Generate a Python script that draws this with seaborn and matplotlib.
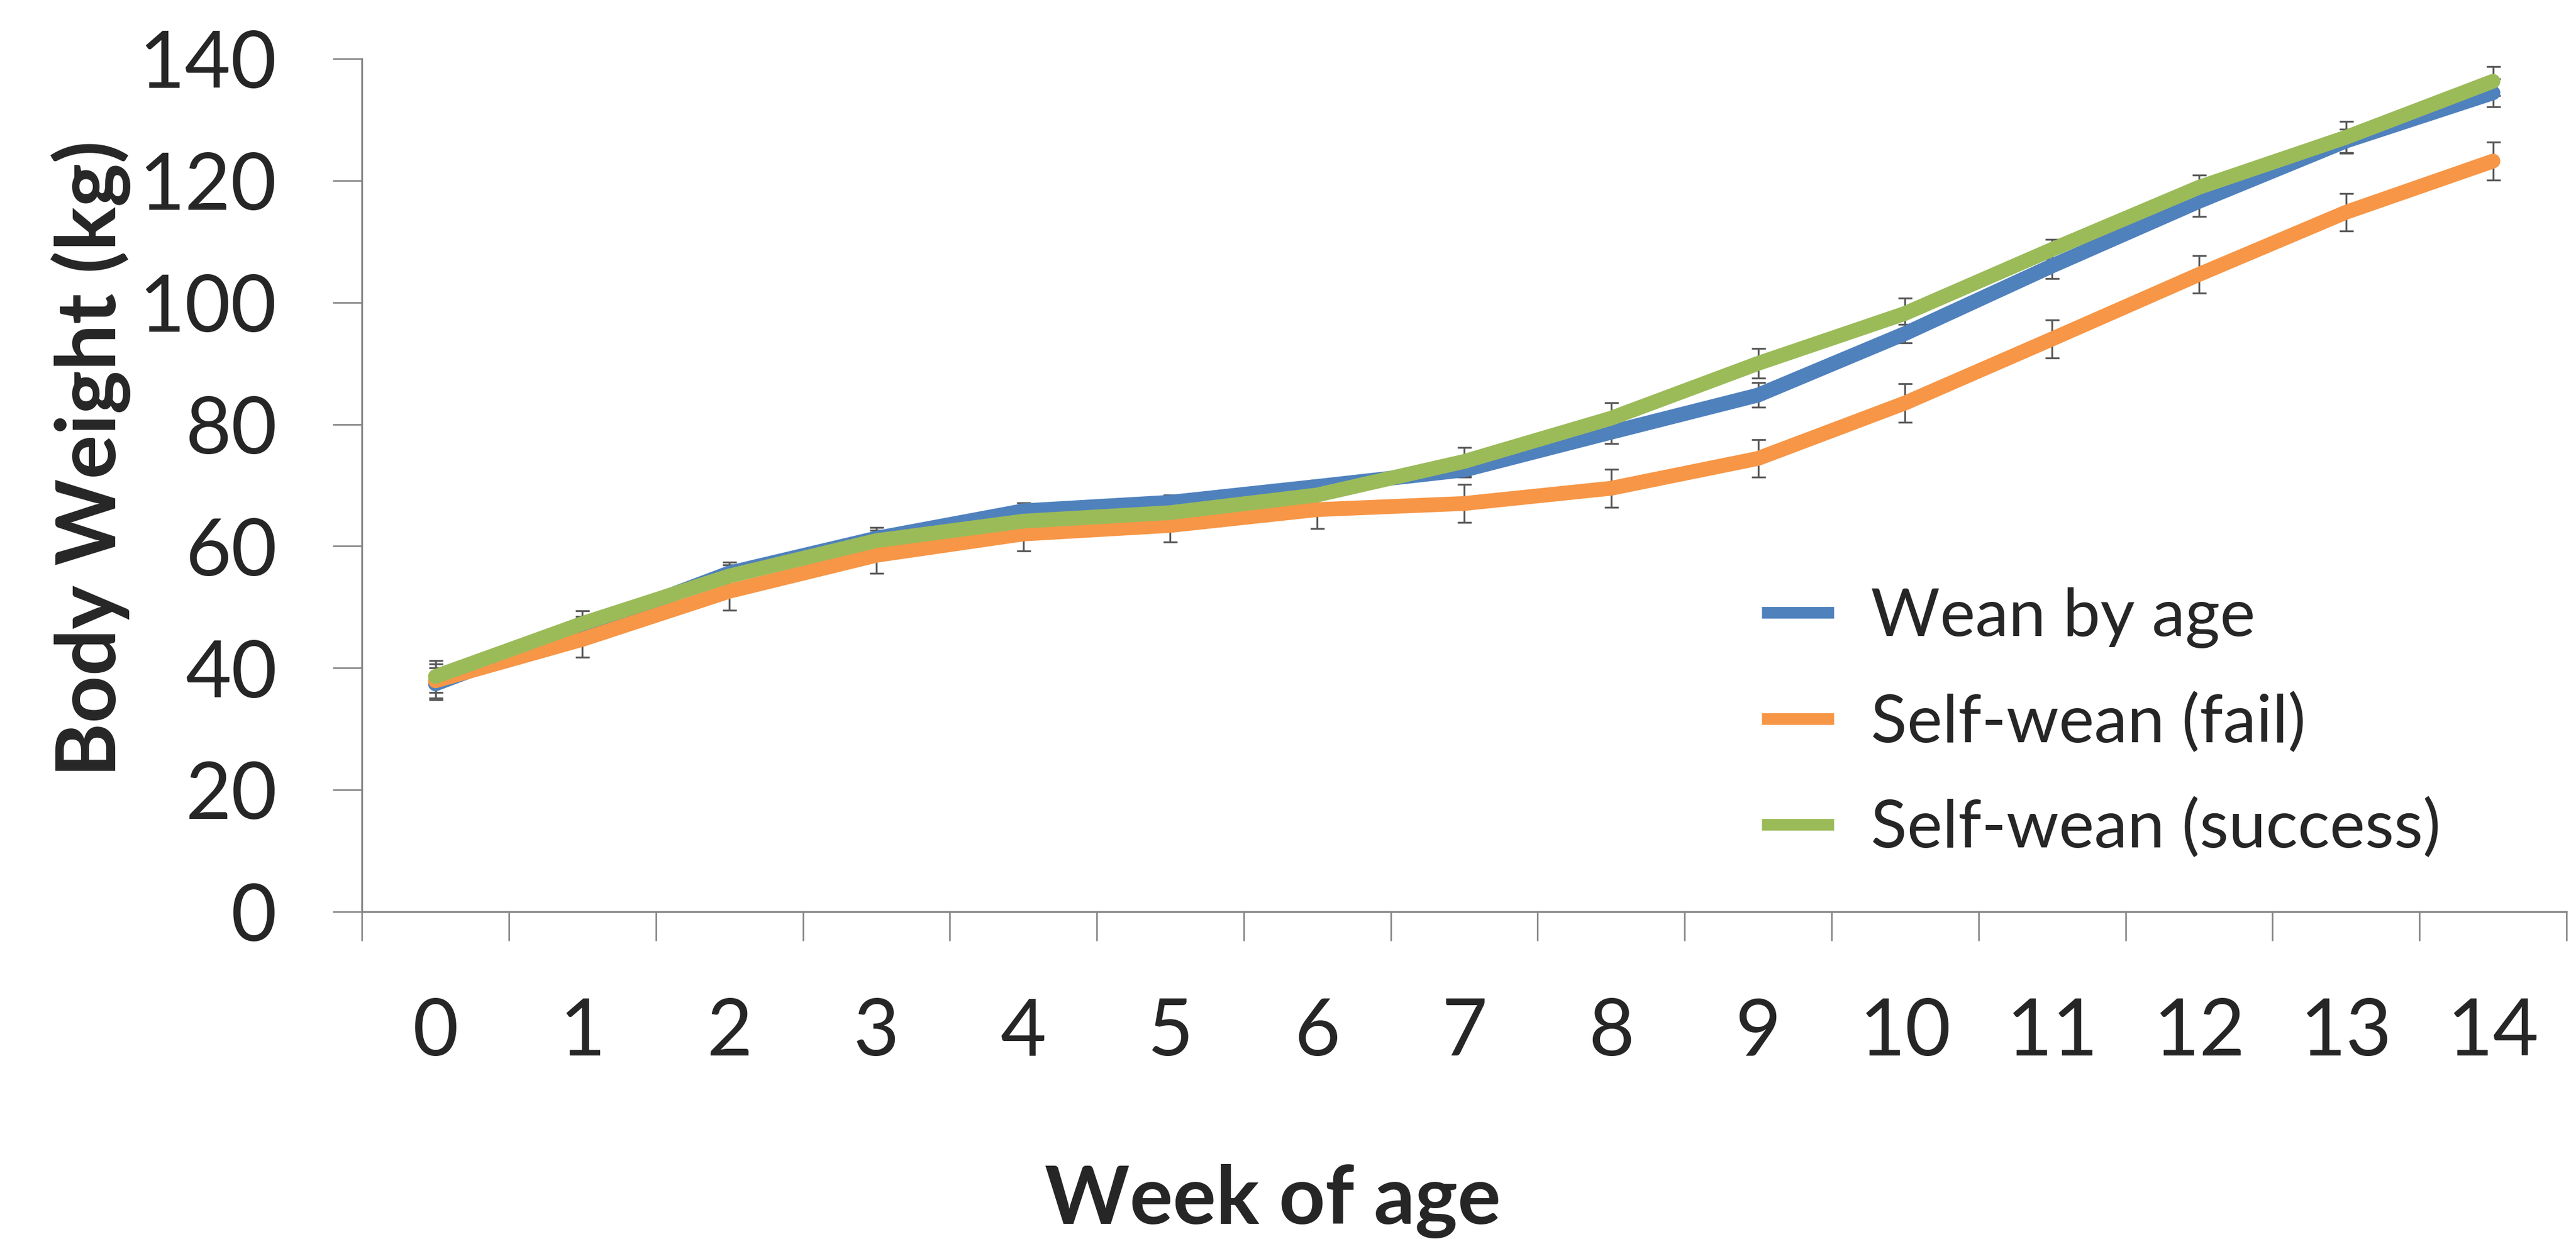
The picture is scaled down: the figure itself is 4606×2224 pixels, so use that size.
import matplotlib
matplotlib.use("Agg")
import matplotlib.pyplot as plt
import seaborn as sns
import numpy as np
import pandas as pd

# Body weight by week of age (kg), mean and error
weeks = list(range(15))
wean_by_age = [37.4, 46.5, 55.6, 61.3, 65.8, 67.2, 69.8, 72.5, 78.7, 84.8, 94.9, 106.0, 116.6, 126.5, 134.4]
self_wean_fail = [37.9, 44.7, 52.6, 58.5, 62.0, 63.4, 66.0, 67.0, 69.5, 74.4, 83.5, 94.0, 104.6, 114.8, 123.2]
self_wean_success = [38.6, 47.3, 55.1, 60.9, 64.1, 65.5, 68.4, 73.9, 81.0, 90.0, 98.2, 108.7, 118.9, 127.1, 136.3]
err_wean = [2.6, 2.0, 1.8, 1.8, 1.3, 1.2, 1.0, 1.2, 1.9, 2.0, 1.5, 2.1, 2.5, 1.9, 2.3]
err_fail = [2.8, 2.9, 3.1, 3.0, 2.8, 2.7, 3.1, 3.1, 3.1, 3.1, 3.2, 3.1, 3.1, 3.1, 3.1]
err_success = [2.6, 2.1, 1.8, 1.7, 1.5, 1.6, 1.8, 2.3, 2.5, 2.4, 2.5, 1.6, 2.0, 2.6, 2.4]

labels = ["Wean by age", "Self-wean (fail)", "Self-wean (success)"]
colors = ["#4F81BD", "#F79646", "#9BBB59"]

df = pd.DataFrame({
    "week": weeks * 3,
    "weight": wean_by_age + self_wean_fail + self_wean_success,
    "err": err_wean + err_fail + err_success,
    "group": [labels[0]] * 15 + [labels[1]] * 15 + [labels[2]] * 15,
})

sns.set_style("white")
plt.rcParams["font.family"] = ["Lato", "DejaVu Sans"]

fig = plt.figure(figsize=(23.03, 11.12), dpi=200)
ax = fig.add_axes([0.1405, 0.2671, 0.8558, 0.6857])

# error bars sit under the lines
for lab in labels:
    d = df[df["group"] == lab]
    ax.errorbar(d["week"], d["weight"], yerr=d["err"], fmt="none",
                ecolor="#595959", elinewidth=1.2, capsize=4.5, capthick=1.2, zorder=1)

sns.lineplot(data=df, x="week", y="weight", hue="group", hue_order=labels,
             palette=colors, linewidth=9.5, ax=ax, legend=False,
             solid_capstyle="round", zorder=2)

ax.set_xlim(-0.5, 14.5)
ax.set_ylim(0, 140)
ax.set_yticks(range(0, 141, 20))
ax.set_xticks(np.arange(-0.5, 15, 1))
ax.set_xticklabels([])
ax.set_xticks(weeks, minor=True)
ax.set_xticklabels([str(w) for w in weeks], minor=True)

for s in ["top", "right"]:
    ax.spines[s].set_visible(False)
for s in ["left", "bottom"]:
    ax.spines[s].set_color("#868686")
    ax.spines[s].set_linewidth(1.2)

ax.tick_params(axis="y", which="major", direction="out", length=18.7, width=1.0,
               color="#868686", pad=36, labelsize=51, left=True)
ax.tick_params(axis="x", which="major", direction="out", length=18.7, width=1.0,
               color="#868686", bottom=True)
ax.tick_params(axis="x", which="minor", length=0, pad=55, labelsize=51)

ax.set_xlabel("")
ax.set_ylabel("")
fig.text(0.494, 1 - 2148 / 2224, "Week of age", fontsize=52, fontweight="bold",
         ha="center", va="center")
fig.text(163 / 4606, 1 - 820 / 2224, "Body Weight (kg)", fontsize=53, fontweight="bold",
         ha="center", va="center", rotation=90)

handles = [plt.Line2D([], [], color=c, linewidth=7.5, solid_capstyle="butt") for c in colors]
fig.legend(handles, labels, loc="upper left", bbox_to_anchor=(3150 / 4606, 1 - 1050 / 2224),
           frameon=False, fontsize=43, handlelength=1.08, handletextpad=0.55,
           labelspacing=0.66, borderpad=0, borderaxespad=0)

fig.savefig("out.png", dpi=200, facecolor="white")
